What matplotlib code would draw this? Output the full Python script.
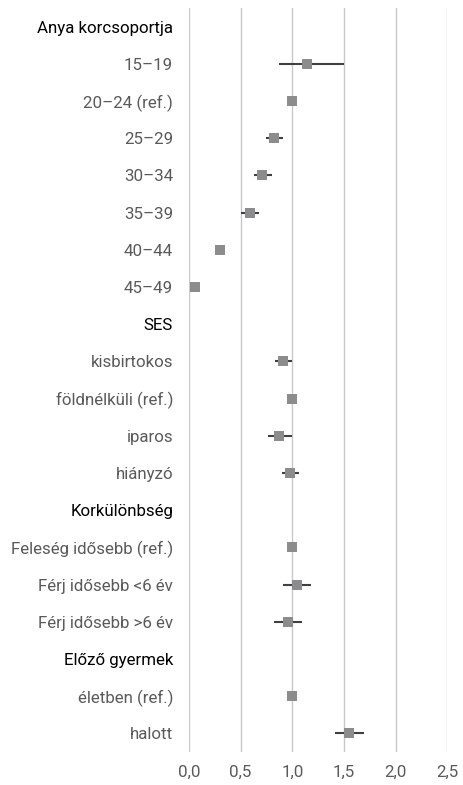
import numpy as np
import matplotlib.pyplot as plt

plt.rcParams['font.family'] = ['Roboto', 'DejaVu Sans']

labels = ["Anya korcsoportja", "15–19", "20–24 (ref.)", "25–29", "30–34", "35–39",
          "40–44", "45–49", "SES", "kisbirtokos", "földnélküli (ref.)", "iparos",
          "hiányzó", "Korkülönbség", "Feleség idősebb (ref.)", "Férj idősebb <6 év",
          "Férj idősebb >6 év", "Előző gyermek", "életben (ref.)", "halott"]
headers = ["Anya korcsoportja", "SES", "Korkülönbség", "Előző gyermek"]

# odds ratios and 95% CI (nan = header row)
est = [np.nan, 1.14, 1.00, 0.82, 0.71, 0.59, 0.30, 0.06, np.nan, 0.91, 1.00, 0.87,
       0.98, np.nan, 1.00, 1.05, 0.96, np.nan, 1.00, 1.55]
low = [np.nan, 0.87, 1.00, 0.75, 0.63, 0.50, 0.25, 0.05, np.nan, 0.83, 1.00, 0.76,
       0.90, np.nan, 1.00, 0.91, 0.82, np.nan, 1.00, 1.41]
high = [np.nan, 1.50, 1.00, 0.91, 0.80, 0.68, 0.35, 0.07, np.nan, 1.00, 1.00, 1.00,
        1.06, np.nan, 1.00, 1.18, 1.09, np.nan, 1.00, 1.69]
xticks = [0.0, 0.5, 1.0, 1.5, 2.0, 2.5]

est = np.array(est)
low = np.array(low)
high = np.array(high)
y = np.arange(len(labels))

fig = plt.figure(figsize=(4.63, 7.85), dpi=100)
ax = fig.add_axes([189/463, 33/785, (447.3-189)/463, 744/785])

ok = ~np.isnan(est)
ax.errorbar(est[ok], y[ok], xerr=[est[ok]-low[ok], high[ok]-est[ok]],
            fmt='none', ecolor='#404040', elinewidth=1.5, capsize=0, zorder=3)
ax.scatter(est[ok], y[ok], marker='s', s=55, color='#8c8c8e', zorder=4, linewidths=0)

ax.set_xlim(0, 2.5)
ax.set_ylim(len(labels)-0.5, -0.5)
ax.set_xticks(xticks)
ax.set_xticklabels([f"{t:.1f}".replace('.', ',') for t in xticks])
ax.set_yticks(y)
ax.set_yticklabels(labels)
ax.tick_params(axis='both', length=0, labelsize=12.2)
for t in ax.get_yticklabels():
    if t.get_text() in headers:
        t.set_color('#000000')
    else:
        t.set_color('#5a5a5a')
for t in ax.get_xticklabels():
    t.set_color('#5a5a5a')
ax.tick_params(axis='y', pad=11.5)
ax.tick_params(axis='x', pad=9)
ax.grid(axis='x', color='#c8c8c8', linewidth=1.0)
ax.set_axisbelow(True)
for s in ax.spines.values():
    s.set_visible(False)

plt.savefig("out.png", dpi=100)
